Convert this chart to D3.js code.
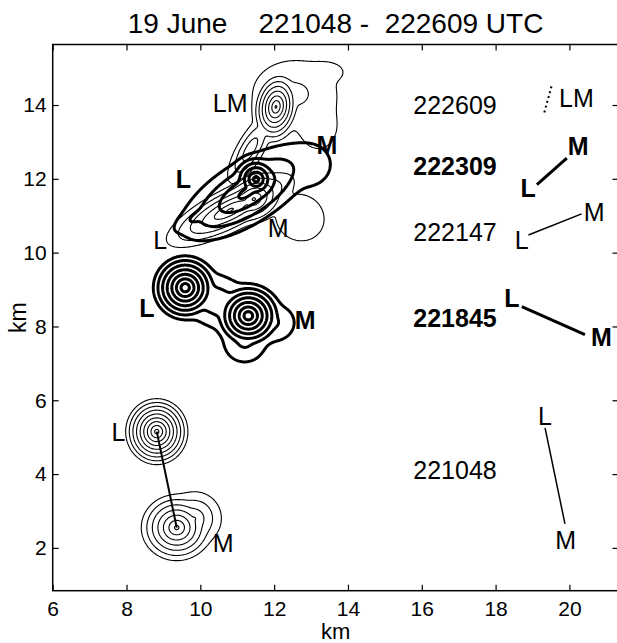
<!DOCTYPE html>
<html>
<head>
<meta charset="utf-8">
<script src="https://cdn.jsdelivr.net/npm/d3@7"></script>
<style>
  body { margin: 0; background: #fff; }
  text { font-family: "Liberation Sans", Arial, Helvetica, sans-serif; fill: #000; }
</style>
</head>
<body>
<svg id="chart" width="617" height="643"></svg>
<script>
// ---- data -------------------------------------------------------------
const title = "19 June    221048 -  222609 UTC";
const xTicks = [6, 8, 10, 12, 14, 16, 18, 20];
const yTicks = [2, 4, 6, 8, 10, 12, 14];

// scans (UTC hhmmss) and whether each one is drawn bold
const scanTimes = ["221048", "221845", "222147", "222309", "222609"];
const scanBold  = [false, true, false, true, false];
// contour levels per scan
const scanLevels = [
  [1, 2, 3, 4, 5, 6, 7, 8, 9],
  [1, 2, 3, 4, 5, 6, 7],
  [1, 2, 3, 4, 5, 6],
  [1, 2, 3, 4, 5, 6],
  [1, 2, 3, 4, 5, 6, 7, 8]
];
// echo components per scan: [x km, y km, peak level, ring spacing along axis u (km), along v (km), u-axis angle (deg)]
const echo221048 = [
  [8.82, 5.15, 9.6, 0.098, 0.104, 0],
  [9.36, 2.55, 7.4, 0.150, 0.140, 0],
  [9.85, 2.80, 4.0, 0.240, 0.240, 0]
];
const echo221845 = [
  [9.59, 9.05, 7.9, 0.125, 0.125, 0],
  [11.30, 8.29, 7.9, 0.130, 0.125, 0],
  [10.45, 8.68, 3.0, 0.600, 0.350, -24],
  [11.20, 7.60, 2.4, 0.400, 0.400, 0],
  [12.00, 8.10, 2.2, 0.450, 0.400, 0]
];
const echo222147 = [
  [10.80, 11.15, 6.3, 0.360, 0.110, 27],
  [11.45, 11.45, 6.3, 0.160, 0.120, 27],
  [12.70, 10.95, 1.95, 0.700, 0.650, -30]
];
const echo222309 = [
  [11.51, 11.99, 6.6, 0.120, 0.120, 0],
  [11.25, 11.62, 4.4, 0.600, 0.250, 32],
  [9.95, 11.00, 2.5, 0.450, 0.160, 30],
  [12.95, 12.35, 1.95, 0.600, 0.550, 20]
];
const echo222609 = [
  [12.05, 13.95, 8.3, 0.085, 0.130, -10],
  [12.55, 14.30, 2.5, 0.750, 0.600, 0],
  [13.40, 14.90, 1.95, 0.450, 0.250, 0],
  [13.20, 13.40, 1.95, 0.500, 0.600, 0],
  [11.35, 12.80, 4.0, 0.350, 0.120, 60]
];
const scanEchoes = [echo221048, echo221845, echo222147, echo222309, echo222609];

// L and M cell positions (km) per scan
const cellL = [[8.82, 5.15], [9.59, 9.05], [10.05, 10.90], [10.70, 11.27], [11.95, 13.60]];
const cellM = [[9.36, 2.55], [11.30, 8.29], [11.49, 11.47], [11.51, 11.99], [12.16, 14.36]];

// in-plot cell labels: [scan index, text, x km, y km]
const cellLabels = [
  [0, "L", 7.78, 5.15], [0, "M", 10.62, 2.13],
  [1, "L", 8.55, 8.50], [1, "M", 12.84, 8.18],
  [2, "L", 8.91, 10.35], [2, "M", 12.11, 10.66],
  [3, "L", 9.54, 11.99], [3, "M", 13.43, 12.92],
  [4, "LM", 10.81, 14.05]
];
// time labels in the right-hand column: x km, y km
const timeLabelPos = [[16.90, 4.11], [16.90, 8.23], [16.90, 10.55], [16.90, 12.35], [16.90, 14.00]];
// L->M motion key: start point (km) per scan
const keyStart = [[19.34, 5.25], [18.71, 8.54], [18.89, 10.48], [19.12, 11.84], [19.32, 13.80]];
// key labels: [scan index, text, x km, y km]
const keyLabels = [
  [0, "L", 19.34, 5.57], [0, "M", 19.90, 2.22],
  [1, "L", 18.44, 8.78], [1, "M", 20.87, 7.72],
  [2, "L", 18.71, 10.33], [2, "M", 20.67, 11.11],
  [3, "L", 18.88, 11.76], [3, "M", 20.24, 12.88],
  [4, "LM", 20.19, 14.19]
];

// ---- layout -----------------------------------------------------------
const svg = d3.select("#chart");
const x = d3.scaleLinear().domain([6, 21.33]).range([52.7, 618.5]);
const y = d3.scaleLinear().domain([0.84, 15.64]).range([590.7, 44.5]);
const [x0, x1] = x.domain(), [y0, y1] = y.domain();

svg.append("defs").append("clipPath").attr("id", "plotClip")
  .append("rect")
  .attr("x", x(x0)).attr("y", y(y1))
  .attr("width", x(x1) - x(x0)).attr("height", y(y0) - y(y1));

// ---- reflectivity field and contours ----------------------------------
const res = 0.025;
const nx = Math.ceil((x1 - x0) / res) + 1;
const ny = Math.ceil((y1 - y0) / res) + 1;
const sharp = 3;

function field(comps) {
  const vals = new Float64Array(nx * ny);
  const pre = comps.map(([cx, cy, pk, a, b, ang]) => {
    const t = ang * Math.PI / 180;
    return { cx, cy, pk, a, b, c: Math.cos(t), s: Math.sin(t) };
  });
  for (let j = 0; j < ny; j++) {
    const py = y0 + j * res;
    for (let i = 0; i < nx; i++) {
      const px = x0 + i * res;
      let sum = 0;
      for (const p of pre) {
        const dx = px - p.cx, dy = py - p.cy;
        const u = (dx * p.c + dy * p.s) / p.a;
        const v = (-dx * p.s + dy * p.c) / p.b;
        const lv = p.pk - Math.sqrt(u * u + v * v);
        sum += Math.exp(sharp * lv);
      }
      vals[j * nx + i] = Math.log(sum) / sharp;
    }
  }
  return vals;
}

const gridToPlot = d3.geoTransform({
  point(gx, gy) {
    this.stream.point(x(x0 + (gx - 0.5) * res), y(y0 + (gy - 0.5) * res));
  }
});
const path = d3.geoPath(gridToPlot);

const plot = svg.append("g").attr("clip-path", "url(#plotClip)");

scanEchoes.forEach((comps, k) => {
  const vals = field(comps);
  const polys = d3.contours().size([nx, ny]).thresholds(scanLevels[k])(vals);
  plot.append("g")
    .attr("fill", "none")
    .attr("stroke", "#000")
    .attr("stroke-width", scanBold[k] ? 3 : 1.1)
    .attr("stroke-linejoin", "round")
    .selectAll("path").data(polys).join("path")
    .attr("d", path);
});

// line joining the two cells of the first scan
plot.append("line")
  .attr("x1", x(cellL[0][0])).attr("y1", y(cellL[0][1]))
  .attr("x2", x(cellM[0][0])).attr("y2", y(cellM[0][1]))
  .attr("stroke", "#000").attr("stroke-width", 2);

// cell labels
svg.append("g").selectAll("text").data(cellLabels).join("text")
  .attr("x", d => x(d[2])).attr("y", d => y(d[3]))
  .attr("text-anchor", "middle").attr("dominant-baseline", "central")
  .attr("font-size", 25)
  .attr("font-weight", d => scanBold[d[0]] ? "bold" : "normal")
  .text(d => d[1]);

// time labels
svg.append("g").selectAll("text").data(scanTimes).join("text")
  .attr("x", (d, i) => x(timeLabelPos[i][0])).attr("y", (d, i) => y(timeLabelPos[i][1]))
  .attr("text-anchor", "middle").attr("dominant-baseline", "central")
  .attr("font-size", 25)
  .attr("font-weight", (d, i) => scanBold[i] ? "bold" : "normal")
  .text(d => d);

// L->M motion key
svg.append("g").selectAll("line").data(scanTimes).join("line")
  .attr("x1", (d, i) => x(keyStart[i][0]))
  .attr("y1", (d, i) => y(keyStart[i][1]))
  .attr("x2", (d, i) => x(keyStart[i][0] + cellM[i][0] - cellL[i][0]))
  .attr("y2", (d, i) => y(keyStart[i][1] + cellM[i][1] - cellL[i][1]))
  .attr("stroke", "#000")
  .attr("stroke-width", (d, i) => scanBold[i] ? 3 : (i === 4 ? 2 : 1.5))
  .attr("stroke-dasharray", (d, i) => i === 4 ? "2,3" : null);

svg.append("g").selectAll("text").data(keyLabels).join("text")
  .attr("x", d => x(d[2])).attr("y", d => y(d[3]))
  .attr("text-anchor", "middle").attr("dominant-baseline", "central")
  .attr("font-size", 25)
  .attr("font-weight", d => scanBold[d[0]] ? "bold" : "normal")
  .text(d => d[1]);

// ---- axes ---------------------------------------------------------------
const tick = 6;
svg.append("g").attr("transform", `translate(0,${y(y0)})`)
  .call(d3.axisBottom(x).tickValues(xTicks).tickSize(-tick).tickSizeOuter(0).tickPadding(10))
  .call(g => g.select(".domain").remove())
  .call(g => g.selectAll("text").attr("font-size", 21).attr("font-family", null));
svg.append("g").attr("transform", `translate(0,${y(y1)})`)
  .call(d3.axisTop(x).tickValues(xTicks).tickSize(-tick).tickFormat(""))
  .call(g => g.select(".domain").remove());
svg.append("g").attr("transform", `translate(${x(x0)},0)`)
  .call(d3.axisLeft(y).tickValues(yTicks).tickSize(-tick).tickSizeOuter(0).tickPadding(6))
  .call(g => g.select(".domain").remove())
  .call(g => g.selectAll("text").attr("font-size", 21).attr("font-family", null));
svg.append("g").attr("transform", `translate(${x(x1)},0)`)
  .call(d3.axisRight(y).tickValues(yTicks).tickSize(-tick).tickFormat(""))
  .call(g => g.select(".domain").remove());
svg.selectAll(".tick line").attr("stroke", "#000").attr("stroke-width", 1.2);

svg.append("rect")
  .attr("x", x(x0)).attr("y", y(y1))
  .attr("width", x(x1) - x(x0)).attr("height", y(y0) - y(y1))
  .attr("fill", "none").attr("stroke", "#000").attr("stroke-width", 1.5);

svg.append("text")
  .attr("x", (x(x0) + x(x1)) / 2).attr("y", 639)
  .attr("text-anchor", "middle").attr("font-size", 22).text("km");
svg.append("text")
  .attr("transform", `translate(26,${(y(y0) + y(y1)) / 2}) rotate(-90)`)
  .attr("text-anchor", "middle").attr("font-size", 23).text("km");

svg.append("text")
  .attr("x", (x(x0) + x(x1)) / 2).attr("y", 33)
  .attr("text-anchor", "middle").attr("font-size", 28)
  .attr("xml:space", "preserve").style("white-space", "pre")
  .text(title);
</script>
</body>
</html>
